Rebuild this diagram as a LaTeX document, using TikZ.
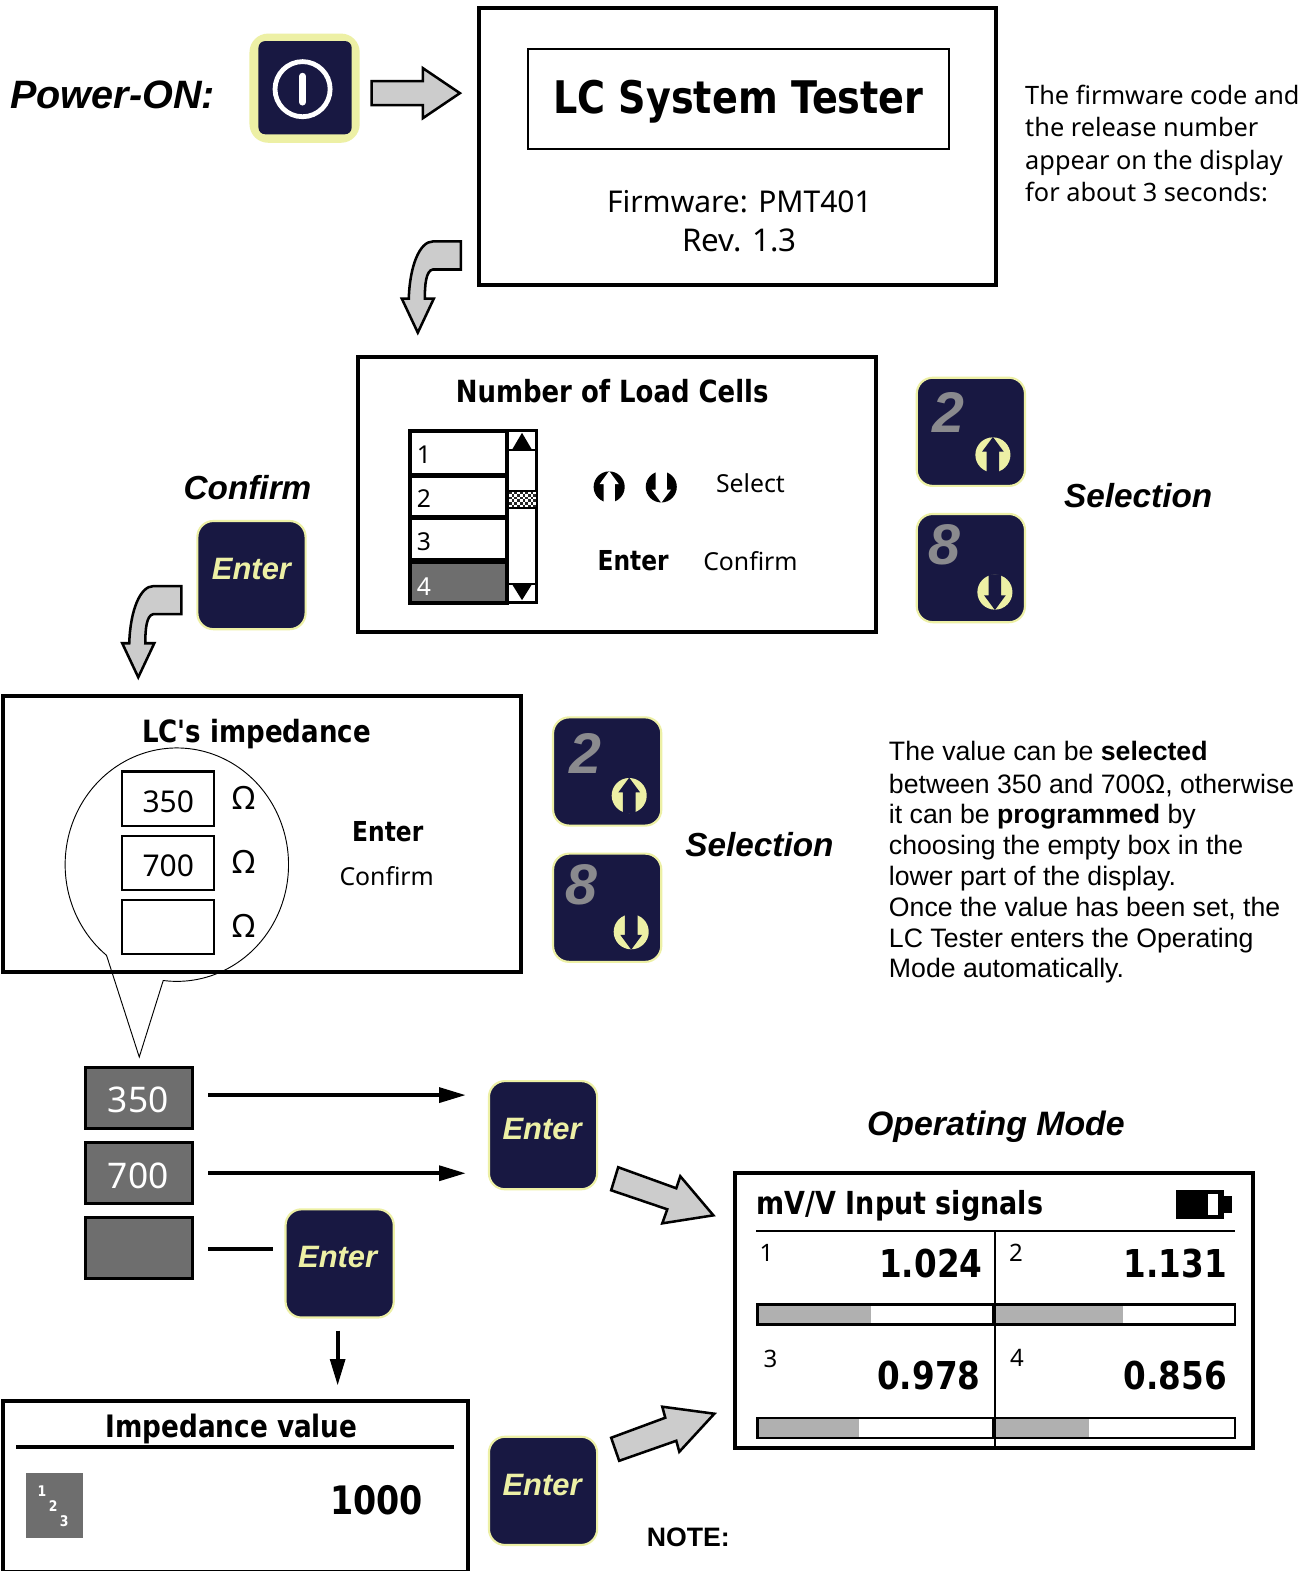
\documentclass[tikz,border=0pt]{standalone}
\usepackage{fontspec}
\setmainfont{Liberation Sans}
\newfontfamily\disp{Noto Sans}
\newfontfamily\dispb[FakeStretch=0.85]{DejaVu Sans}
\usetikzlibrary{arrows.meta,patterns,positioning}
\definecolor{navy}{HTML}{181842}
\definecolor{keyy}{HTML}{EDF0A5}
\definecolor{blockg}{HTML}{CCCCCC}
\definecolor{dgrey}{HTML}{6E6E6E}
\definecolor{digit}{HTML}{8A8A8E}
\definecolor{barg}{HTML}{B0B0B0}
\newcommand{\fsz}[1]{\fontsize{#1}{#1}\selectfont}
\tikzset{
  wh/.style 2 args={minimum width=#1*0.7517pt,minimum height=#2*0.7517pt,inner sep=0pt,outer sep=0pt},
  panel/.style={draw=black,line width=3pt},
  frameb/.style={draw=black,line width=1.6pt,fill=white},
  keyb/.style={wh={108}{108},draw=keyy,line width=1.6pt,fill=navy,rounded corners=12pt},
  keylabel/.style={font=\bfseries\itshape\fsz{23.2},text=keyy,inner sep=0pt},
  digitlabel/.style={font=\bfseries\itshape\fsz{43},text=digit,inner sep=0pt},
  blockarrow/.style={draw=black,line width=1.9pt,fill=blockg,line join=miter},
  head/.style={font=\bfseries\itshape\fsz{25},inner sep=0pt,anchor=base},
  dtxt/.style={font=\disp\fsz{18.6},inner sep=0pt},
  dbold/.style={font=\dispb\bfseries\fsz{#1},inner sep=0pt,anchor=base},
  atxt/.style={font=\fsz{20},inner sep=0pt,anchor=base west},
  conn/.style={line width=3pt,-{Triangle[length=20pt,width=11pt]}},
  greyb/.style={wh={107}{61},draw=black,line width=2.2pt,fill=dgrey,text=white},
  cellb/.style={draw=black,line width=2.6pt,fill=white},
  bar/.style={draw=black,line width=1.6pt,fill=white},
}
% up / down icons: centre, radius, colour, background
\newcommand{\upicon}[5][]{%
  \begin{scope}[shift={(#2)}]
    \fill[#4] (0,0) circle[radius=#3];
    \fill[#5] (0,-#3*1.02) -- (#3*0.62,-#3*0.18) -- (#3*0.36,-#3*0.18) -- (#3*0.36,#3*1.02) -- (-#3*0.36,#3*1.02) -- (-#3*0.36,-#3*0.18) -- (-#3*0.62,-#3*0.18) -- cycle;
  \end{scope}}
\newcommand{\downicon}[5][]{%
  \begin{scope}[shift={(#2)}]
    \fill[#4] (0,0) circle[radius=#3];
    \fill[#5] (0,#3*1.02) -- (#3*0.62,#3*0.18) -- (#3*0.36,#3*0.18) -- (#3*0.36,-#3*1.02) -- (-#3*0.36,-#3*1.02) -- (-#3*0.36,#3*0.18) -- (-#3*0.62,#3*0.18) -- cycle;
  \end{scope}}
\begin{document}
\begin{tikzpicture}[x=0.7517pt,y=-0.7517pt]
\useasboundingbox (0,0) rectangle (1311,1568);
\fill[white] (0,0) rectangle (1311,1568);

% ---- Power on
\node[font=\bfseries\itshape\fsz{29.7},inner sep=0pt,anchor=base west] (poweron) at (10,108) {Power-ON:};
\node[wh={110}{109},fill=keyy,rounded corners=14pt] (pwrkey) at (304,88) {};
\node[wh={93}{93},fill=navy,rounded corners=5pt] (pwrin) at (304.5,87.5) {};
\draw[white,line width=3.6pt] (302,89) circle[radius=27.5];
\draw[white,line width=5pt,line cap=round] (302,76) -- (302,102);
\draw[blockarrow] (371,81) -- (422,81) -- (422,68) -- (459,93) -- (422,118) -- (422,105) -- (371,105) -- cycle;

% ---- Box 1
\node[panel,wh={516}{276}] (box1) at (736,146) {};
\node[wh={420}{100},draw=black,line width=1.6pt] (title1) at (737,99) {};
\node[dbold=33.7] (t1) at (737,113) {LC System Tester};
\node[inner sep=0pt,anchor=base,font=\disp\fsz{22.5}] (fw) at (738,212) {Firmware: PMT401};
\node[inner sep=0pt,anchor=base,font=\disp\fsz{23.5}] (rev) at (738,251) {Rev. 1.3};
\foreach \n/\yy/\tt in {a/104/The firmware code and,b/136/the release number,c/169/appear on the display,d/201/for about 3 seconds:}{
  \node[font=\disp\fsz{19},inner sep=0pt,anchor=base west] (note\n) at (1023,\yy) {\tt};
}

% ---- curved arrow 1
\draw[blockarrow] (460,241) -- (460,269) -- (432,269) .. controls (425,270) and (424,285) .. (424,298) -- (433,298) -- (417,332) -- (401,298) -- (408,298) .. controls (409,265) and (419,241) .. (432,241) -- cycle;

% ---- Box 2
\node[panel,wh={517}{275}] (box2) at (615.5,493.5) {};
\node[dbold=22.9] (t2) at (611,402) {Number of Load Cells};
\node[wh={127}{172},frameb,line width=2.2pt] (listb) at (472,515.5) {};
\node[cellb,wh={97}{44},anchor=north west] (c1) at (409,430) {};
\node[cellb,wh={97}{41},anchor=north west] (c2) at (409,475) {};
\node[cellb,wh={97}{42},anchor=north west] (c3) at (409,517) {};
\node[cellb,wh={97}{41},anchor=north west,fill=dgrey] (c4) at (409,561) {};
\foreach \n/\yy/\tt in {a/463/1,b/507/2,c/549/3}{
  \node[font=\disp\fsz{18.5},inner sep=0pt,anchor=base] (li\n) at (423,\yy) {\tt};
}
\node[font=\disp\fsz{18.5},inner sep=0pt,anchor=base,text=white] (lid) at (423,594) {4};
\draw[black,line width=1.5pt] (507,449.5) -- (536,449.5) (507,583) -- (536,583);
\fill[black] (521,432) -- (531,449) -- (511,449) -- cycle;
\fill[black] (521,599) -- (531,583) -- (511,583) -- cycle;
\fill[white] (508,490) rectangle (535,507);
\foreach \i in {0,...,9}{\foreach \j in {0,...,5}{
  \pgfmathtruncatemacro{\parity}{mod(\i+\j,2)}
  \ifnum\parity=0 \fill[black!85] ({508+\i*2.7},{490+\j*2.84}) rectangle ++(2.7,2.84);\fi
}}
\draw[black,line width=1pt] (508,490) -- (536,490) (508,507) -- (536,507);
\upicon{608,486}{15.5}{black}{white}
\downicon{660,486}{15.5}{black}{white}
\node[dtxt,anchor=base] (sel) at (749,492) {Select};
\node[dbold=20.6] (ent2) at (632,569) {Enter};
\node[dtxt,anchor=base] (conf2) at (749,569) {Confirm};

% ---- keys 1st group
\node[keyb] (k2a) at (969,431) {};
\node[digitlabel] (d2a) at (947,412) {2};
\upicon{991,454}{17.5}{keyy}{navy}
\node[keyb] (k8a) at (969,567) {};
\node[digitlabel] (d8a) at (943,544) {8};
\downicon{993,591}{17.5}{keyy}{navy}
\node[head] (sel1) at (1136,507) {Selection};
\node[head] (conf1) at (247,499) {Confirm};
\node[keyb] (ke1) at (251,574) {};
\node[keylabel] (kel1) at (251,568) {Enter};

% ---- curved arrow 2
\draw[blockarrow] (181,585) -- (181,613) -- (153,613) .. controls (146,614) and (145,629) .. (145,642) -- (154,642) -- (138,676) -- (122,642) -- (129,642) .. controls (130,609) and (140,585) .. (153,585) -- cycle;

% ---- Box 3
\draw[draw=black,line width=0.7pt,fill=white] plot[domain=129:457,samples=90,smooth] ({176.5+111.5*cos(\x)},{863+116.5*sin(\x)}) -- (139,1055) -- cycle;
\node[panel,wh={517}{275}] (box3) at (261.5,832.5) {};
\node[dbold=23] (t3) at (256,741) {LC's impedance};
\node[wh={92}{54},draw=black,line width=1.6pt] (i1) at (168,797) {};
\node[wh={92}{54},draw=black,line width=1.6pt] (i2) at (168,861) {};
\node[wh={92}{54},draw=black,line width=1.6pt] (i3) at (168,925) {};
\node[font=\disp\fsz{22.5},inner sep=0pt,anchor=base] (i1t) at (168,811) {350};
\node[font=\disp\fsz{22.5},inner sep=0pt,anchor=base] (i2t) at (168,875) {700};
\foreach \n/\yy in {a/808,b/872,c/936}{
  \node[font=\disp\fsz{24},inner sep=0pt,anchor=base] (om\n) at (243,\yy) {Ω};
}
\node[dbold=20.6] (ent3) at (387,840) {Enter};
\node[dtxt,anchor=base] (conf3) at (386,884) {Confirm};

% ---- keys 2nd group
\node[keyb] (k2b) at (606,770) {};
\node[digitlabel] (d2b) at (584,752) {2};
\upicon{628,794}{17.5}{keyy}{navy}
\node[keyb] (k8b) at (606,906) {};
\node[digitlabel] (d8b) at (580,883) {8};
\downicon{630,930}{17.5}{keyy}{navy}
\node[head] (sel2) at (758,855) {Selection};

\node[atxt] (pa) at (887,759) {The value can be \textbf{selected}};
\node[atxt] (pb) at (887,792) {between 350 and 700Ω, otherwise};
\node[atxt] (pc) at (887,822) {it can be \textbf{programmed} by};
\node[atxt] (pd) at (887,853) {choosing the empty box in the};
\node[atxt] (pe) at (887,884) {lower part of the display.};
\node[atxt] (pf) at (887,915) {Once the value has been set, the};
\node[atxt] (pg) at (887,946) {LC Tester enters the Operating};
\node[atxt] (ph) at (887,976) {Mode automatically.};

% ---- Grey values
\node[greyb] (g1) at (138.5,1095.5) {};
\node[greyb] (g2) at (138.5,1170.5) {};
\node[greyb] (g3) at (138.5,1245.5) {};
\node[font=\disp\fsz{26.5},text=white,inner sep=0pt,anchor=base] (g1t) at (138,1110) {350};
\node[font=\disp\fsz{26.5},text=white,inner sep=0pt,anchor=base] (g2t) at (138,1186) {700};
\coordinate (a1s) at (208,1093);
\coordinate (a1e) at (465,1093);
\coordinate (a2s) at (208,1171);
\coordinate (a2e) at (465,1171);
\coordinate (a3s) at (208,1247);
\coordinate (a3e) at (272,1247);
\coordinate (a4s) at (337,1328);
\coordinate (a4e) at (337,1383);
\draw[conn] (a1s) -- (a1e);
\draw[conn] (a2s) -- (a2e);
\draw[line width=3pt] (a3s) -- (a3e);
\draw[conn] (a4s) -- (a4e);
\node[keyb] (ke2) at (542,1133) {};
\node[keylabel] (kel2) at (541,1127) {Enter};
\node[keyb] (ke3) at (339,1261) {};
\node[keylabel] (kel3) at (337,1255) {Enter};
\node[keyb] (ke4) at (542,1488) {};
\node[keylabel] (kel4) at (541,1482) {Enter};

% ---- diagonal arrows
\draw[blockarrow] (617,1165) -- (675,1186) -- (679,1174) -- (712,1213) -- (661,1221) -- (666,1207) -- (610,1188) -- cycle;
\draw[blockarrow] (610,1435) -- (664,1415) -- (661,1404) -- (713,1411) -- (678,1449) -- (675,1438) -- (618,1458) -- cycle;

% ---- Box 4
\node[panel,wh={464}{171}] (box4) at (235,1483.5) {};
\node[dbold=23.2] (t4) at (231,1435) {Impedance value};
\draw[line width=3pt] (16,1444) -- (453,1444);
\node[wh={57}{65},fill=dgrey] (sq) at (54.5,1502.5) {};
\foreach \n/\xx/\yy/\tt in {a/42/1494/1,b/53/1509/2,c/64/1524/3}{
  \node[dbold=11,text=white] (sn\n) at (\xx,\yy) {\tt};
}
\node[dbold=29.4] (v1000) at (376,1512) {1000};
\node[font=\bfseries\fsz{20},inner sep=0pt,anchor=base] (notel) at (687,1544) {NOTE:};

% ---- Operating mode
\node[head,font=\bfseries\itshape\fsz{25.4}] (om) at (994,1133) {Operating Mode};
\node[panel,wh={517}{274}] (box5) at (992.5,1308) {};
\node[dbold=23.8,anchor=base west] (t5) at (755,1212) {mV/V Input signals};
\fill[black] (1174,1188) rectangle (1222,1217);
\fill[black] (1222,1194) rectangle (1230,1211);
\fill[white] (1206,1192) rectangle (1216,1213);
\draw[line width=1.5pt] (755,1229) -- (1233,1229);
\draw[line width=1.5pt] (993,1229) -- (993,1443);
\draw[bar] (756,1302) rectangle (1233,1322);
\fill[barg] (757,1303) rectangle (869,1321);
\fill[barg] (993,1303) rectangle (1121,1321);
\draw[bar,fill=none] (756,1302) rectangle (1233,1322);
\draw[line width=3pt] (992,1302) -- (992,1322);
\draw[bar] (756,1415) rectangle (1233,1435);
\fill[barg] (757,1416) rectangle (857,1434);
\fill[barg] (993,1416) rectangle (1087,1434);
\draw[bar,fill=none] (756,1415) rectangle (1233,1435);
\draw[line width=3pt] (992,1415) -- (992,1435);
\foreach \n/\xx/\yy/\tt in {a/765/1259/1,b/1014/1259/2,c/769/1365/3,d/1015/1364/4}{
  \node[font=\disp\fsz{18},inner sep=0pt,anchor=base] (q\n) at (\xx,\yy) {\tt};
}
\foreach \n/\xx/\yy/\tt in {a/929/1275/1.024,b/1173/1275/1.131,c/927/1387/0.978,d/1173/1387/0.856}{
  \node[dbold=28.8] (r\n) at (\xx,\yy) {\tt};
}
\end{tikzpicture}
\end{document}
